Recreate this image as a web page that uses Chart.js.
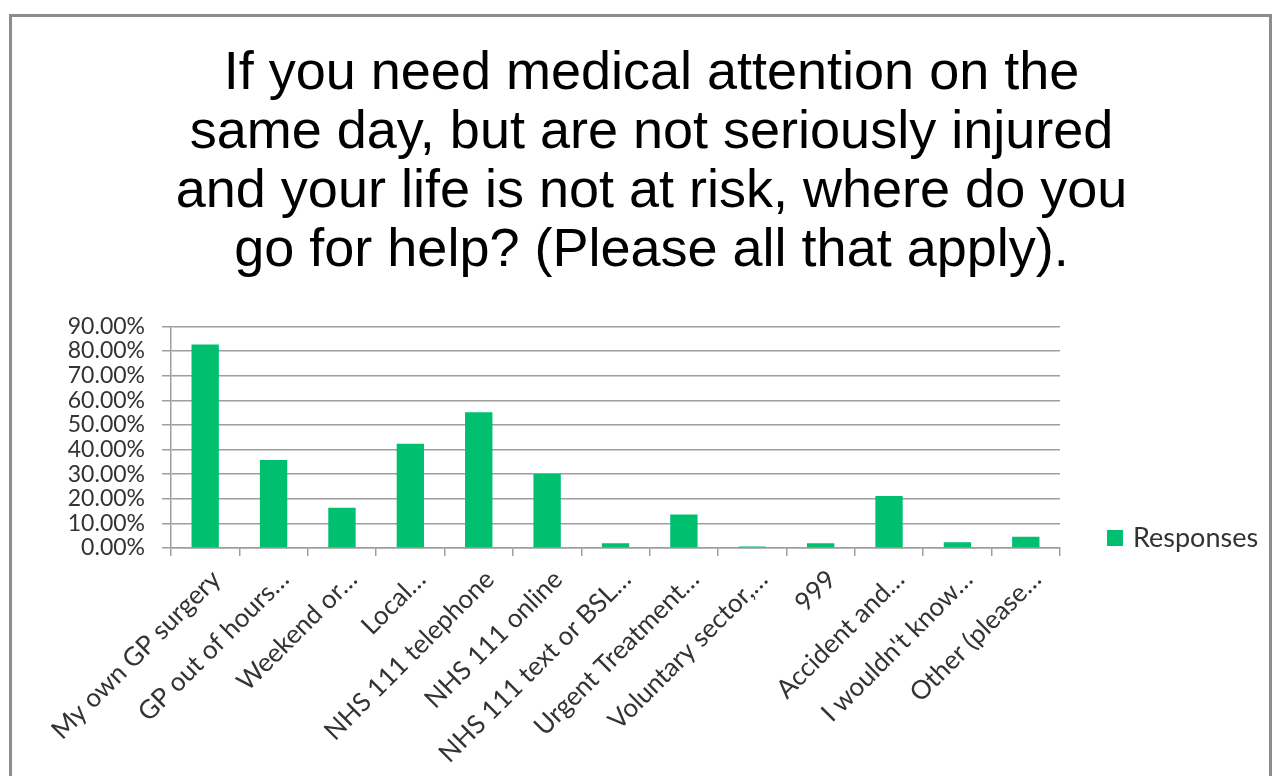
<!DOCTYPE html>
<html>
<head>
<meta charset="utf-8">
<title>Same day medical attention</title>
<script src="https://cdn.jsdelivr.net/npm/chart.js@4"></script>
<style>
    body { margin: 0; background: #fff; overflow: hidden; }
    #frame {
        position: absolute; left: 9px; top: 14px; width: 1263px; height: 800px;
        border: 3px solid #8c8c8c; box-sizing: border-box;
    }
    #chart { position: absolute; left: 0; top: 0; }
</style>
</head>
<body>
<div id="frame"></div>
<canvas id="chart" width="1279" height="776"></canvas>
<script>
// Chart data
const titleLines = [
    'If you need medical attention on the',
    'same day, but are not seriously injured',
    'and your life is not at risk, where do you',
    'go for help? (Please all that apply).'
];
const categories = [
    'My own GP surgery',
    'GP out of hours\u2026',
    'Weekend or\u2026',
    'Local\u2026',
    'NHS 111 telephone',
    'NHS 111 online',
    'NHS 111 text or BSL\u2026',
    'Urgent Treatment\u2026',
    'Voluntary sector,\u2026',
    '999',
    'Accident and\u2026',
    'I wouldn\'t know\u2026',
    'Other (please\u2026'
];
const responses = [82.7, 35.7, 16.3, 42.3, 55.1, 30.1, 1.9, 13.6, 0.6, 1.9, 21.1, 2.3, 4.6];
const seriesLabel = 'Responses';
const yMax = 90;
const yStep = 10;

const barColor = '#00bf6f';
const gridColor = '#9e9e9e';
const textColor = '#333333';

// Legend drawn next to the bottom of the plot, like the source chart
const sideLegend = {
    id: 'sideLegend',
    afterDraw(chart) {
        const ds = chart.data.datasets[0];
        const ctx = chart.ctx;
        const x = chart.chartArea.right + 47;
        const y = chart.chartArea.bottom - 10;
        ctx.save();
        ctx.fillStyle = ds.backgroundColor;
        ctx.fillRect(x, y - 8, 16, 16);
        ctx.fillStyle = textColor;
        ctx.font = '27px Lato';
        ctx.textBaseline = 'middle';
        ctx.fillText(ds.label, x + 26, y);
        ctx.restore();
    }
};

const ctx = document.getElementById('chart').getContext('2d');
new Chart(ctx, {
    type: 'bar',
    data: {
        labels: categories,
        datasets: [{
            label: seriesLabel,
            data: responses,
            backgroundColor: barColor,
            barPercentage: 0.4,
            categoryPercentage: 1.0,
            yAxisID: 'y'
        }]
    },
    options: {
        responsive: false,
        animation: false,
        layout: { padding: { left: 24, right: 0, top: 0, bottom: 0 } },
        plugins: {
            legend: { display: false },
            tooltip: { enabled: false },
            title: {
                display: true,
                text: titleLines,
                color: '#000',
                font: { family: "'Liberation Sans', Arial, sans-serif", size: 54, weight: 'normal', lineHeight: 1.09 },
                padding: { top: 45, bottom: 46 }
            }
        },
        scales: {
            x: {
                offset: true,
                grid: {
                    offset: true,
                    drawOnChartArea: false,
                    drawTicks: true,
                    tickLength: 8,
                    color: gridColor,
                    lineWidth: 1.5
                },
                border: { display: true, color: gridColor, width: 1.5 },
                ticks: {
                    autoSkip: false,
                    maxRotation: 45,
                    minRotation: 45,
                    labelOffset: 11,
                    color: textColor,
                    padding: 8,
                    font: { family: 'Lato', size: 26 }
                },
                afterFit: (scale) => { scale.height = 228; }
            },
            y: {
                position: 'left',
                min: 0,
                max: yMax,
                ticks: {
                    stepSize: yStep,
                    autoSkip: false,
                    color: textColor,
                    padding: 17,
                    font: { family: 'Lato', size: 23, lineHeight: 1 },
                    callback: (v) => v.toFixed(2) + '%'
                },
                grid: {
                    color: gridColor,
                    lineWidth: 1.5,
                    tickLength: 9
                },
                border: { display: true, color: gridColor, width: 1.5 },
                afterFit: (scale) => { scale.width = 147; }
            },
            // empty space on the right for the legend
            yR: {
                position: 'right',
                display: true,
                grid: { display: false },
                border: { display: false },
                ticks: { display: false },
                afterFit: (scale) => { scale.width = 219; }
            }
        }
    },
    plugins: [sideLegend]
});
</script>
</body>
</html>
